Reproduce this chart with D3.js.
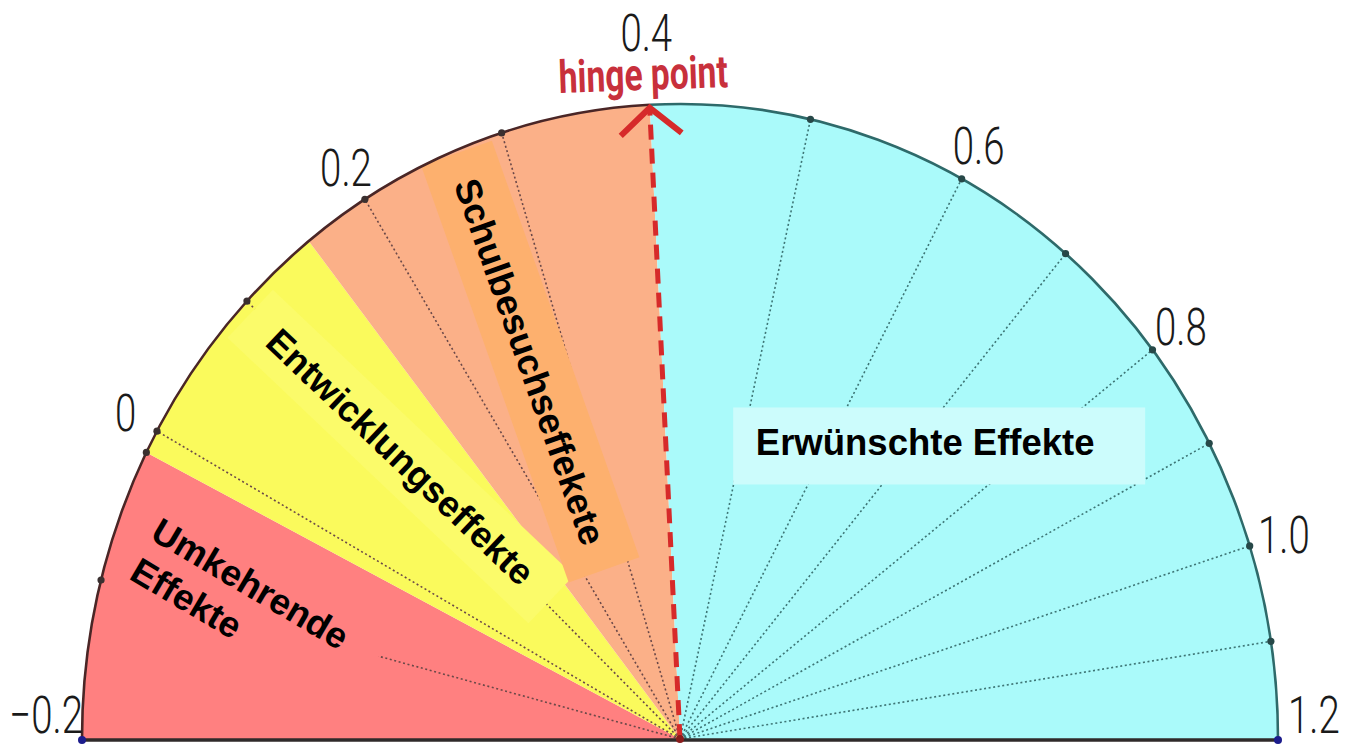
<!DOCTYPE html>
<html>
<head>
<meta charset="utf-8">
<script src="https://cdn.jsdelivr.net/npm/d3@7"></script>
<style>
  html, body { margin: 0; padding: 0; background: #fff; }
  svg { display: block; }
</style>
</head>
<body>
<svg id="barometer"></svg>
<script>
// scale values (effect size d)
var labelValues = [-0.2, 0, 0.2, 0.4, 0.6, 0.8, 1.0, 1.2];
var tickLabels  = ["\u22120.2", "0", "0.2", "0.4", "0.6", "0.8", "1.0", "1.2"];
// the drawn dial is not linear: angle (deg, 0 = right) read at each labelled tick
var labelAngles = [180, 151, 121.8, 92.9, 61.9, 37.8, 17.7, 0];
var minorTicks  = [-0.1, 0, 0.1, 0.2, 0.3, 0.5, 0.6, 0.7, 0.8, 0.9, 1.0, 1.1];
var hinge = 0.4;

// zones
var zoneNames = ["Umkehrende Effekte", "Entwicklungseffekte", "Schulbesuchseffekete", "Erwünschte Effekte"];
var zoneEdges = [-0.2, -0.015, 0.155, 0.4, 1.2];

var W = 1345, H = 745;
var cx = 680, cy = 739, rx = 598, ry = 635;

var svg = d3.select('#barometer')
    .attr('width', W)
    .attr('height', H);

var angle = d3.scaleLinear()
    .domain(labelValues)
    .range(labelAngles);

var zoneColor = d3.scaleOrdinal()
    .domain(zoneNames)
    .range(["#ff8080", "#fafa5c", "#fbb088", "#aafafa"]);

function polar(v, rf) {
    var a = angle(v) * Math.PI / 180;
    return [cx + rx * rf * Math.cos(a), cy - ry * rf * Math.sin(a)];
}
function d3Angle(v) {
    return (90 - angle(v)) * Math.PI / 180;
}

var zones = zoneNames.map(function (n, i) { return {name: n, from: zoneEdges[i], to: zoneEdges[i + 1]}; });

var arc = d3.arc()
    .innerRadius(0)
    .outerRadius(ry)
    .startAngle(d => d3Angle(d.from))
    .endAngle(d => d3Angle(d.to));

var dialTransform = 'translate(' + cx + ',' + cy + ') scale(' + (rx / ry) + ',1)';

// clip for the label boxes
svg.append('clipPath')
    .attr('id', 'dial-clip')
    .append('path')
    .attr('transform', dialTransform)
    .attr('d', arc({from: zoneEdges[0], to: zoneEdges[zoneEdges.length - 1]}));

// sectors: circle of radius ry squeezed to the ellipse
svg.append('g')
    .attr('transform', dialTransform)
    .selectAll('path')
    .data(zones)
    .enter()
    .append('path')
    .attr('d', arc)
    .style('fill', d => zoneColor(d.name));

// dotted radial lines
svg.append('g')
    .selectAll('line')
    .data(minorTicks)
    .enter()
    .append('line')
    .attr('x1', cx)
    .attr('y1', cy)
    .attr('x2', d => polar(d, 1)[0])
    .attr('y2', d => polar(d, 1)[1])
    .style('stroke', d => d < hinge ? '#6a4848' : '#3d7575')
    .style('stroke-width', 1.6)
    .style('stroke-dasharray', '2,2.6');

// zone labels with their boxes
var labelLayout = [
    {v: -0.088, rf: 0.772, rot: 30.5, w: 300, h: 118, bx: 0, by: 8, fill: "#ff8080"},
    {v: 0.1,    rf: 0.645, rot: 43.5, w: 415, h: 66,  bx: 0, by: 0, fill: "#fbfb6a"},
    {v: 0.262,  rf: 0.645, rot: 70.5, w: 442, h: 75,  bx: 0, by: 0, fill: "#fdb06e"},
    {v: 0.709,  rf: 0.622, rot: 0,    w: 412, h: 77,  bx: 14, by: 4, fill: "#ccfcfc"}
];

var labels = svg.append('g')
    .attr('clip-path', 'url(#dial-clip)')
    .selectAll('g')
    .data(zoneNames)
    .enter()
    .append('g')
    .attr('transform', function (d, i) {
        var L = labelLayout[i], p = polar(L.v, L.rf);
        return 'translate(' + p[0] + ',' + p[1] + ') rotate(' + L.rot + ')';
    });

labels.append('rect')
    .attr('x', (d, i) => labelLayout[i].bx - labelLayout[i].w / 2)
    .attr('y', (d, i) => labelLayout[i].by - labelLayout[i].h / 2)
    .attr('width', (d, i) => labelLayout[i].w)
    .attr('height', (d, i) => labelLayout[i].h)
    .style('fill', (d, i) => labelLayout[i].fill);

labels.each(function (d, i) {
    var t = d3.select(this).append('text')
        .style('font-family', '"Liberation Sans", Arial, sans-serif')
        .style('font-weight', 'bold')
        .style('font-size', '36.5px')
        .style('fill', '#000');
    if (i === 0) {
        var words = d.split(' ');
        t.append('tspan').attr('x', -108).attr('y', -10).text(words[0]);
        t.append('tspan').attr('x', -106).attr('y', 35).text(words[1]);
    } else {
        t.attr('text-anchor', 'middle')
            .attr('dy', '0.36em')
            .text(d);
    }
});

// hinge line
var hingeTop = polar(hinge, 1);
svg.append('line')
    .attr('x1', cx).attr('y1', cy)
    .attr('x2', hingeTop[0]).attr('y2', hingeTop[1] + 4)
    .style('stroke', '#d62a2a')
    .style('stroke-width', 5)
    .style('stroke-dasharray', '15,9');

// outline
function ellArc(v0, v1) {
    var p0 = polar(v0, 1), p1 = polar(v1, 1);
    return 'M' + p0[0] + ',' + p0[1] + ' A' + rx + ',' + ry + ' 0 0 1 ' + p1[0] + ',' + p1[1];
}
svg.append('path')
    .attr('d', ellArc(zoneEdges[0], hinge))
    .style('fill', 'none')
    .style('stroke', '#4a2626')
    .style('stroke-width', 2.6);
svg.append('path')
    .attr('d', ellArc(hinge, zoneEdges[zoneEdges.length - 1]))
    .style('fill', 'none')
    .style('stroke', '#2e6a6a')
    .style('stroke-width', 2.6);

var pL = polar(zoneEdges[0], 1), pR = polar(zoneEdges[zoneEdges.length - 1], 1);
svg.append('line')
    .attr('x1', pL[0]).attr('y1', cy + 1)
    .attr('x2', pR[0]).attr('y2', cy + 1)
    .style('stroke', '#2f2a2a')
    .style('stroke-width', 3.5);

// tick dots
svg.append('g')
    .selectAll('circle')
    .data(minorTicks.concat([zoneEdges[1]]))
    .enter()
    .append('circle')
    .attr('cx', d => polar(d, 1)[0])
    .attr('cy', d => polar(d, 1)[1])
    .attr('r', 3.6)
    .style('fill', d => d < hinge ? '#3a3030' : '#274848');

svg.append('g')
    .selectAll('circle')
    .data([labelValues[0], labelValues[labelValues.length - 1]])
    .enter()
    .append('circle')
    .attr('cx', d => polar(d, 1)[0])
    .attr('cy', cy + 1)
    .attr('r', 4)
    .style('fill', '#1c1c8c');

svg.append('circle')
    .attr('cx', cx).attr('cy', cy)
    .attr('r', 4)
    .style('fill', '#8a1c1c');

// arrow head at the hinge point
svg.append('path')
    .attr('d', 'M' + (hingeTop[0] - 29) + ',' + (hingeTop[1] + 31) + ' L' + hingeTop[0] + ',' + (hingeTop[1] + 3) + ' L' + (hingeTop[0] + 32) + ',' + (hingeTop[1] + 28))
    .style('fill', 'none')
    .style('stroke', '#d62a2a')
    .style('stroke-width', 6);

// tick labels (narrow, hand-drawn look)
svg.append('g')
    .selectAll('text')
    .data(labelValues)
    .enter()
    .append('text')
    .attr('transform', function (d) {
        var p = polar(d, d === hinge ? 1.115 : 1.06);
        var y = Math.min(p[1], cy - 25);
        return 'translate(' + p[0] + ',' + y + ') scale(0.8,1.08)';
    })
    .attr('dy', '0.36em')
    .attr('text-anchor', 'middle')
    .style('font-family', 'Roboto, "DejaVu Sans", sans-serif')
    .style('font-weight', 300)
    .style('font-size', '48px')
    .style('fill', '#1a1a1a')
    .text((d, i) => tickLabels[i]);

svg.append('text')
    .attr('transform', 'translate(' + (hingeTop[0] - 6) + ',90) rotate(-2) scale(0.8,1.08)')
    .attr('text-anchor', 'middle')
    .style('font-family', 'Roboto, "DejaVu Sans", sans-serif')
    .style('font-weight', 'bold')
    .style('font-size', '42px')
    .style('fill', '#c8303c')
    .text('hinge point');
</script>
</body>
</html>
